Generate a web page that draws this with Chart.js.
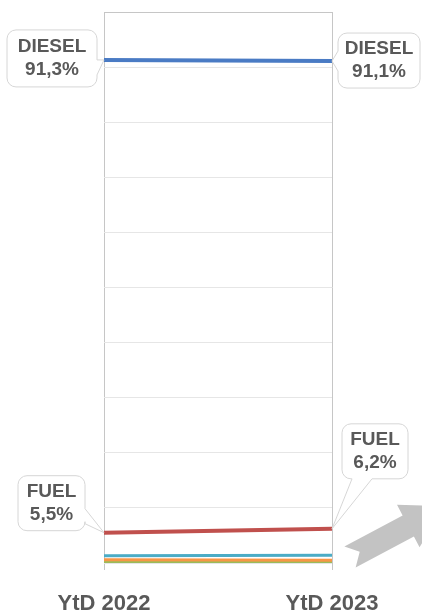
<!DOCTYPE html>
<html><head><meta charset="utf-8">
<script src="https://cdn.jsdelivr.net/npm/chart.js@4"></script>
<style>html,body{margin:0;padding:0;background:#fff;} #wrap{width:422px;height:613px;position:relative;}</style>
</head><body><div id="wrap"><canvas id="c"></canvas></div>
<script>
const categories = ['YtD 2022', 'YtD 2023'];
const seriesNames = ['DIESEL', 'FUEL', 'Serie 3', 'Serie 4', 'Serie 5', 'Serie 6'];
const diesel = [91.3, 91.1];
const fuel = [5.5, 6.2];
const series3 = [1.3, 1.4];
const series4 = [0.6, 0.5];
const series5 = [0.2, 0.1];
const series6 = [0.1, 0.2];
const yMin = 0, yMax = 100, yStep = 10;

const colors = ['#4a7bc4', '#c0504d', '#4bacc6', '#f79646', '#9bbb59', '#8064a2'];
const widths = [4, 4, 3, 3, 3, 3];
const allSeries = [diesel, fuel, series3, series4, series5, series6];

const fmt = v => v.toFixed(1).replace('.', ',') + '%';

// callout styling: box relative to point, pointer edge + base (relative to box)
const callouts = [
  {ds: 0, i: 0, bx: -97, by: -30, w: 90, h: 57, edge: 'right', a: 30, b: 45},
  {ds: 0, i: 1, bx: 6, by: -28, w: 82, h: 55, edge: 'left', a: 18, b: 38},
  {ds: 1, i: 0, bx: -86, by: -57, w: 67, h: 55, edge: 'right', a: 33, b: 48},
  {ds: 1, i: 1, bx: 10, by: -105, w: 66, h: 55, edge: 'bottom', a: 10, b: 30}
];

function calloutPath(ctx, x, y, w, h, r, edge, a, b, px, py) {
  ctx.beginPath();
  ctx.moveTo(x + r, y);
  ctx.lineTo(x + w - r, y);
  ctx.arcTo(x + w, y, x + w, y + r, r);
  if (edge === 'right') { ctx.lineTo(x + w, y + a); ctx.lineTo(px, py); ctx.lineTo(x + w, y + b); }
  ctx.lineTo(x + w, y + h - r);
  ctx.arcTo(x + w, y + h, x + w - r, y + h, r);
  if (edge === 'bottom') { ctx.lineTo(x + b, y + h); ctx.lineTo(px, py); ctx.lineTo(x + a, y + h); }
  ctx.lineTo(x + r, y + h);
  ctx.arcTo(x, y + h, x, y + h - r, r);
  if (edge === 'left') { ctx.lineTo(x, y + b); ctx.lineTo(px, py); ctx.lineTo(x, y + a); }
  ctx.lineTo(x, y + r);
  ctx.arcTo(x, y, x + r, y, r);
  ctx.closePath();
}

const decoPlugin = {
  id: 'deco',
  afterDraw(chart) {
    const ctx = chart.ctx;
    const xs = chart.scales.x, ys = chart.scales.y;
    // arrow
    const T = {x: 350, y: 557};
    const ang = -28 * Math.PI / 180;
    const u = {x: Math.cos(ang), y: Math.sin(ang)};
    const n = {x: -u.y, y: u.x};
    const P = (d, o) => [T.x + u.x * d + n.x * o, T.y + u.y * d + n.y * o];
    const pts = [P(0, -12), P(66, -12), P(66, -24), P(108, 0), P(66, 24), P(66, 12), P(0, 12), P(11, 0)];
    ctx.save();
    ctx.fillStyle = '#c3c3c3';
    ctx.beginPath();
    pts.forEach((p, k) => k ? ctx.lineTo(p[0], p[1]) : ctx.moveTo(p[0], p[1]));
    ctx.closePath();
    ctx.fill();
    ctx.restore();
    // callouts
    callouts.forEach(c => {
      const v = allSeries[c.ds][c.i];
      const px = xs.getPixelForValue(c.i);
      const py = ys.getPixelForValue(v);
      const x = px + c.bx, y = py + c.by;
      ctx.save();
      calloutPath(ctx, x, y, c.w, c.h, 9, c.edge, c.a, c.b, px, py);
      ctx.fillStyle = '#ffffff';
      ctx.fill();
      ctx.strokeStyle = '#d6d6d6';
      ctx.lineWidth = 1;
      ctx.stroke();
      ctx.fillStyle = '#595959';
      ctx.font = 'bold 19px "Liberation Sans", Arial, sans-serif';
      ctx.textAlign = 'center';
      ctx.textBaseline = 'middle';
      const cx = x + c.w / 2, cy = y + c.h / 2;
      ctx.fillText(seriesNames[c.ds], cx, cy - 11.5);
      ctx.fillText(fmt(v), cx, cy + 11.5);
      ctx.restore();
    });
  }
};

new Chart(document.getElementById('c'), {
  type: 'line',
  data: {
    labels: categories,
    datasets: allSeries.map((d, k) => ({
      label: seriesNames[k],
      data: d,
      borderColor: colors[k],
      backgroundColor: colors[k],
      borderWidth: widths[k],
      pointRadius: 0,
      tension: 0,
      fill: false
    }))
  },
  options: {
    responsive: true,
    maintainAspectRatio: false,
    animation: false,
    layout: {padding: {left: 104, right: 90, top: 12, bottom: 0}},
    plugins: {legend: {display: false}, tooltip: {enabled: false}},
    scales: {
      x: {
        offset: false,
        grid: {color: '#c6c6c6', lineWidth: 1, tickLength: 7, drawTicks: true},
        border: {display: false},
        ticks: {
          color: '#595959',
          font: {family: '"Liberation Sans", Arial, sans-serif', size: 22, weight: 'bold'},
          padding: 21, maxRotation: 0, autoSkip: false
        },
        afterFit: s => { s.height = 50; }
      },
      y: {
        min: yMin, max: yMax,
        ticks: {stepSize: yStep, display: false},
        grid: {color: c => (c.tick && c.tick.value === yMax) ? '#c6c6c6' : '#e6e6e6', drawTicks: false, lineWidth: 1},
        border: {display: false},
        afterFit: s => { s.width = 0; }
      }
    }
  },
  plugins: [decoPlugin]
});
</script>
</body></html>
